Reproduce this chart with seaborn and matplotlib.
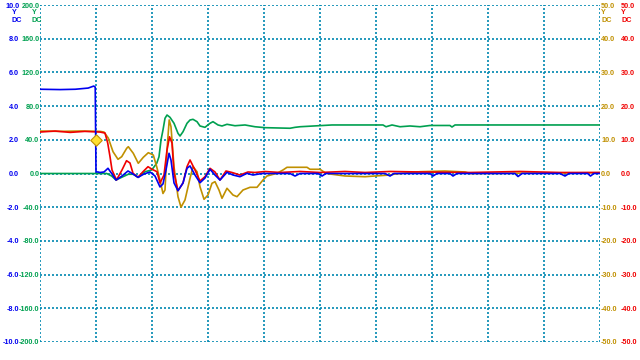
import numpy as np
import pandas as pd
import seaborn as sns
import matplotlib.pyplot as plt

# time axis in screen divisions (0..10), values in each channel's own units
blue_t = [0.0, 0.36, 0.63, 0.86, 0.96, 0.986, 1.0, 1.036, 1.071, 1.143, 1.214, 1.286, 1.357,
          1.464, 1.571, 1.661, 1.75, 1.857, 1.964, 2.054, 2.143, 2.196, 2.25, 2.304, 2.339,
          2.393, 2.464, 2.554, 2.625, 2.679, 2.768, 2.857, 2.946, 3.036, 3.125, 3.214, 3.339,
          3.446, 3.571, 3.696, 3.804, 3.964, 4.464, 4.554, 4.643, 4.964, 5.036, 5.107, 6.161,
          6.25, 6.321, 6.964, 7.018, 7.089, 7.32, 7.375, 7.446, 8.48, 8.536, 8.607, 9.286,
          9.375, 9.446, 9.78, 9.83, 9.89, 10.0]
blue_v = [5.0, 4.98, 5.0, 5.07, 5.19, 5.13, 0.09, 0.09, 0.06, 0.09, 0.31, -0.03, -0.39,
          -0.15, 0.15, -0.03, -0.23, -0.03, 0.09, -0.15, -0.80, -0.62, 0.21, 1.20, 0.80,
          -0.56, -1.02, -0.56, 0.31, 0.45, -0.09, -0.55, -0.27, 0.25, -0.09, -0.39, 0.07,
          -0.09, -0.19, 0.01, -0.09, 0.0, 0.0, -0.15, 0.0, 0.0, -0.15, 0.0, 0.0,
          -0.15, 0.0, 0.0, -0.15, 0.0, 0.0, -0.15, 0.0, 0.0, -0.18, 0.0, 0.0,
          -0.15, 0.0, 0.0, -0.15, 0.0, 0.0]

red_t = [0.0, 0.27, 0.54, 0.80, 1.071, 1.161, 1.209, 1.25, 1.286, 1.366, 1.464, 1.545, 1.607,
         1.661, 1.75, 1.839, 1.929, 2.0, 2.089, 2.143, 2.214, 2.268, 2.313, 2.357, 2.393,
         2.464, 2.554, 2.625, 2.679, 2.768, 2.857, 2.946, 3.036, 3.125, 3.214, 3.321, 3.429,
         3.571, 3.714, 3.839, 4.018, 4.286, 4.643, 5.0, 5.446, 5.804, 6.25, 6.786, 7.679,
         8.571, 9.286, 10.0]
red_v = [12.3, 12.6, 12.2, 12.5, 12.3, 12.0, 9.05, 5.0, 1.04, -1.93, 1.04, 3.80, 3.12,
         0.06, -1.13, 0.53, 2.02, 1.25, 0.53, -2.82, -0.45, 6.97, 10.9, 9.05, 0.15,
         -5.10, -2.82, 2.02, 4.01, 1.04, -2.23, -0.95, 1.54, 0.45, -1.93, 0.74, 0.30,
         -0.45, 0.45, 0.30, 0.59, 0.30, 0.6, 0.3, 0.6, 0.3, 0.6, 0.45, 0.3,
         0.6, 0.3, 0.3]

gold_t = [0.0, 0.36, 0.71, 1.071, 1.143, 1.22, 1.304, 1.393, 1.459, 1.548, 1.577, 1.666, 1.755,
          1.845, 1.934, 2.023, 2.084, 2.143, 2.196, 2.232, 2.268, 2.307, 2.339, 2.393, 2.464,
          2.518, 2.589, 2.679, 2.732, 2.804, 2.857, 2.929, 3.0, 3.071, 3.125, 3.196, 3.25,
          3.339, 3.446, 3.518, 3.625, 3.75, 3.875, 3.982, 4.054, 4.232, 4.339, 4.411, 4.768,
          4.821, 5.0, 5.089, 5.179, 5.446, 5.804, 5.982, 6.25, 6.339, 6.786, 7.232, 7.589,
          7.679, 10.0]
gold_v = [12.6, 12.5, 12.6, 12.5, 12.3, 10.5, 6.47, 4.21, 4.99, 7.48, 7.95, 5.99, 3.03,
          4.81, 6.17, 5.49, 2.02, -1.93, -5.93, -4.90, 6.97, 15.9, 13.9, 2.02, -6.88,
          -10.0, -7.86, -1.42, 2.02, 0.53, -3.92, -7.66, -6.38, -2.91, -2.43, -4.90, -7.36,
          -4.39, -6.38, -6.88, -4.90, -4.10, -4.10, -1.93, -0.74, 0.06, 1.04, 1.84, 1.84,
          1.25, 1.25, 0.24, -0.15, -0.74, -0.95, -0.74, -0.45, -0.15, 0.53, 0.74, 0.45,
          0.0, 0.24]

green_t = [0.0, 1.191, 1.28, 1.357, 1.459, 1.577, 1.666, 1.755, 1.875, 1.995, 2.084, 2.125,
           2.161, 2.196, 2.232, 2.268, 2.321, 2.393, 2.464, 2.5, 2.554, 2.625, 2.679, 2.732,
           2.804, 2.857, 2.946, 3.036, 3.089, 3.179, 3.25, 3.339, 3.482, 3.661, 3.839, 4.018,
           4.464, 4.554, 4.643, 5.214, 6.125, 6.179, 6.286, 6.429, 6.607, 6.786, 6.964, 7.32,
           7.357, 7.411, 10.0]
green_v = [0.0, 0.0, -3.0, -7.7, -4.5, -0.9, -0.9, -4.5, 2.1, 4.2, 12.1, 19.9,
           39.8, 51.6, 65.5, 69.4, 66.7, 59.6, 47.7, 44.5, 49.6, 59.6, 63.5, 64.3,
           61.5, 56.4, 54.8, 59.6, 61.5, 57.6, 56.4, 58.4, 56.7, 57.6, 55.5, 54.4,
           53.7, 54.8, 55.5, 57.6, 57.6, 55.5, 57.6, 55.5, 56.4, 55.5, 57.0, 57.0,
           55.2, 57.6, 57.6]

trigger_t = [1.0]
trigger_v = [2.0]

blue_ticks = [-10, -8, -6, -4, -2, 0, 2, 4, 6, 8, 10]
green_ticks = [-200, -160, -120, -80, -40, 0, 40, 80, 120, 160, 200]
right_ticks = [-50, -40, -30, -20, -10, 0, 10, 20, 30, 40, 50]

BLUE = "#0000f0"
GREEN = "#00a050"
GOLD = "#c09000"
RED = "#f00000"
GRID = "#0088b0"
FS = 5.2


def style_axis(ax, lim, ticks, color, side, pad):
    ax.set_xlim(0, 10)
    ax.set_ylim(-lim, lim)
    ax.set_yticks(ticks)
    ax.set_yticklabels([f"{v:.1f}" for v in ticks])
    if side == "left":
        ax.yaxis.tick_left()
    else:
        ax.yaxis.tick_right()
    ax.tick_params(axis="y", length=0, pad=pad, labelcolor=color, labelsize=FS)
    for lab in ax.get_yticklabels():
        lab.set_fontweight("bold")
    ax.set_xticks(range(11))
    ax.tick_params(axis="x", length=0, labelbottom=False)
    for s in ax.spines.values():
        s.set_visible(False)
    ax.patch.set_visible(False)


def main():
    sns.set_style("white")
    plt.rcParams["font.family"] = ["Liberation Sans", "DejaVu Sans"]
    plt.rcParams["axes.unicode_minus"] = False

    fig = plt.figure(figsize=(6.4, 3.6), dpi=100)
    # green channel is the base axes, it carries the dotted screen grid
    ax_g = fig.add_axes([40 / 640, 1 - 342 / 360, 560 / 640, 337 / 360])
    ax_o = ax_g.twinx()
    ax_r = ax_g.twinx()
    ax_b = ax_g.twinx()

    style_axis(ax_g, 200, green_ticks, GREEN, "left", 0.4)
    style_axis(ax_o, 50, right_ticks, GOLD, "right", 0.8)
    style_axis(ax_r, 50, right_ticks, RED, "right", 15.1)
    style_axis(ax_b, 10, blue_ticks, BLUE, "left", 15.0)

    ax_g.grid(True, color=GRID, linestyle=(0, (1.2, 1.2)), linewidth=1.2)

    lw = 1.2
    sns.lineplot(x=green_t, y=green_v, ax=ax_g, color=GREEN, linewidth=lw, estimator=None, sort=False)
    sns.lineplot(x=gold_t, y=gold_v, ax=ax_o, color=GOLD, linewidth=lw, estimator=None, sort=False)
    sns.lineplot(x=red_t, y=red_v, ax=ax_r, color=RED, linewidth=lw, estimator=None, sort=False)
    sns.lineplot(x=blue_t, y=blue_v, ax=ax_b, color=BLUE, linewidth=lw, estimator=None, sort=False)
    sns.scatterplot(x=trigger_t, y=trigger_v, ax=ax_b, marker="D", s=34,
                    color="#ffe030", edgecolor=GOLD, linewidth=0.8, zorder=5)

    for a in (ax_b, ax_g, ax_o, ax_r):
        a.set_xlabel("")
        a.set_ylabel("")

    # channel headers
    heads = [(12, BLUE), (32, GREEN), (601, GOLD), (621, RED)]
    for px, col in heads:
        fig.text(px / 640, 1 - 13 / 360, "Y", color=col, fontsize=FS,
                 fontweight="bold", ha="left", va="center")
        fig.text(px / 640, 1 - 20 / 360, "DC", color=col, fontsize=FS,
                 fontweight="bold", ha="left", va="center")

    fig.savefig("out.png", dpi=100, facecolor="white")


if __name__ == "__main__":
    main()
